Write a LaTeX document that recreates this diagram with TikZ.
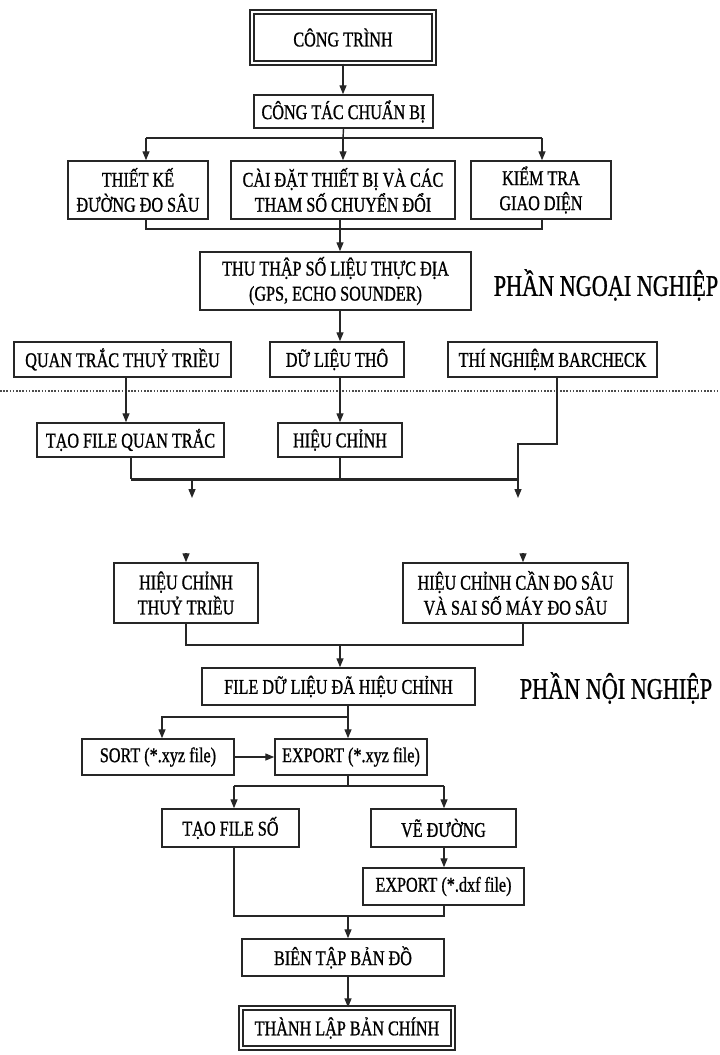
\documentclass[tikz,border=0pt]{standalone}
\usepackage{fontspec}
\setmainfont{Liberation Serif}
\newfontfamily\cf[FakeStretch=0.77,FakeBold=0.9]{Liberation Serif}
\newfontfamily\secfont[FakeStretch=0.74,FakeBold=0.9]{Liberation Serif}
\usetikzlibrary{arrows.meta,calc}
\begin{document}
\begin{tikzpicture}[x=1pt,y=-1pt,
  box/.style={draw=black!85, line width=1.5pt, fill=white, inner sep=0pt, align=center,
    font=\cf\fontsize{21}{25}\selectfont},
  dbox/.style={box, double=white, double distance=2.5pt, line width=1.3pt},
  ln/.style={line width=1.4pt, draw=black!85},
  arr/.style={ln, -{Triangle[length=9pt,width=7pt]}},
  thickbar/.style={line width=3pt, draw=black!85},
  dotline/.style={line width=1.6pt, draw=black!70, dash pattern=on 1.6pt off 1.6pt},
  sec/.style={font=\secfont\fontsize{30}{32}\selectfont, inner sep=0pt}]
\useasboundingbox (0,0) rectangle (720,1055);
% nodes
\node[dbox, minimum width=182, minimum height=51] (ct) at (343,37.5) {CÔNG TRÌNH};
\node[box, minimum width=179, minimum height=33] (ctcb) at (343.5,111.5) {CÔNG TÁC CHUẨN BỊ};
\node[box, minimum width=140, minimum height=58] (tk) at (138,190) {THIẾT KẾ\\ĐƯỜNG ĐO SÂU};
\node[box, minimum width=224, minimum height=58] (cd) at (343,190) {CÀI ĐẶT THIẾT BỊ VÀ CÁC\\THAM SỐ CHUYỂN ĐỔI};
\node[box, minimum width=140, minimum height=58] (kt) at (541,190) {KIỂM TRA\\GIAO DIỆN};
\node[box, minimum width=271, minimum height=58] (tt) at (335.5,281) {THU THẬP SỐ LIỆU THỰC ĐỊA\\(GPS, ECHO SOUNDER)};
\node[sec] (png) at (606,285) {PHẦN NGOẠI NGHIỆP};
\node[box, minimum width=217, minimum height=35] (qt) at (122.5,359.5) {QUAN TRẮC THUỶ TRIỀU};
\node[box, minimum width=134, minimum height=35] (dl) at (337,359.5) {DỮ LIỆU THÔ};
\node[box, minimum width=209, minimum height=35] (bc) at (552.5,359.5) {THÍ NGHIỆM BARCHECK};
\node[box, minimum width=187, minimum height=34] (tf) at (130.5,440) {TẠO FILE QUAN TRẮC};
\node[box, minimum width=124, minimum height=34] (hc) at (340,440) {HIỆU CHỈNH};
\node[box, minimum width=144, minimum height=60] (hct) at (186,593) {HIỆU CHỈNH\\THUỶ TRIỀU};
\node[box, minimum width=225, minimum height=60] (hcc) at (515.5,593) {HIỆU CHỈNH CẦN ĐO SÂU\\VÀ SAI SỐ MÁY ĐO SÂU};
\node[box, minimum width=273, minimum height=37] (fd) at (338.5,686.5) {FILE DỮ LIỆU ĐÃ HIỆU CHỈNH};
\node[sec] (pnn) at (616,688) {PHẦN NỘI NGHIỆP};
\node[box, minimum width=152, minimum height=36] (sort) at (158,757) {SORT (*.xyz file)};
\node[box, minimum width=152, minimum height=36] (ex) at (351,757) {EXPORT (*.xyz file)};
\node[box, minimum width=137, minimum height=38] (tfs) at (230.5,828) {TẠO FILE SỐ};
\node[box, minimum width=145, minimum height=38] (vd) at (443.5,828) {VẼ ĐƯỜNG};
\node[box, minimum width=161, minimum height=37] (exd) at (443.5,886.5) {EXPORT (*.dxf file)};
\node[box, minimum width=202, minimum height=37] (bt) at (343,957.5) {BIÊN TẬP BẢN ĐỒ};
\node[dbox, minimum width=212, minimum height=40] (tl) at (347,1028) {THÀNH LẬP BẢN CHÍNH};
% coordinates
\coordinate (b1L) at (146,138); \coordinate (b1R) at (542,138); \coordinate (b1C) at (343,138);
\coordinate (m1L) at (146,229); \coordinate (m1R) at (542,229); \coordinate (m1C) at (340,229);
\coordinate (q) at (126,0);
\coordinate (dt0) at (0,391); \coordinate (dt1) at (720,391);
\coordinate (k1) at (557,444); \coordinate (k2) at (518,444); \coordinate (k3) at (518,479);
\coordinate (b2L) at (131,479);
\coordinate (a1) at (192,479); \coordinate (a1e) at (192,498); \coordinate (a2e) at (518,498);
\coordinate (s1) at (186,553); \coordinate (s2) at (523,553);
\coordinate (m3L) at (186,645); \coordinate (m3R) at (523,645); \coordinate (m3C) at (340,645);
\coordinate (b4C) at (348,717); \coordinate (b4L) at (162,717);
\coordinate (b5C) at (348,786); \coordinate (b5L) at (234,786); \coordinate (b5R) at (444,786);
\coordinate (m6L) at (234,916); \coordinate (m6R) at (444,916); \coordinate (m6C) at (348,916);
% connectors
\draw[arr] (ct.south) -- (ct.south |- ctcb.north);
\draw[ln] (ctcb.south) -- (b1C);
\draw[ln] (b1L) -- (b1R);
\draw[arr] (b1L) -- (b1L |- tk.north);
\draw[arr] (b1C) -- (b1C |- cd.north);
\draw[arr] (b1R) -- (b1R |- kt.north);
\draw[ln] (m1L |- tk.south) -- (m1L) -- (m1R) -- (m1R |- kt.south);
\draw[ln] (m1C |- cd.south) -- (m1C);
\draw[arr] (m1C) -- (m1C |- tt.north);
\draw[arr] (m1C |- tt.south) -- (m1C |- dl.north);
\draw[dotline] (dt0) -- (dt1);
\draw[arr] (q |- qt.south) -- (q |- tf.north);
\draw[arr] (m1C |- dl.south) -- (m1C |- hc.north);
\draw[ln] (k1 |- bc.south) -- (k1) -- (k2) -- (k3);
\draw[thickbar] (b2L) -- (k3);
\draw[ln] (b2L |- tf.south) -- (b2L);
\draw[ln] (m1C |- hc.south) -- (m1C |- b2L);
\draw[arr] (a1) -- (a1e);
\draw[arr] (k3) -- (a2e);
\draw[arr] (s1) -- (s1 |- hct.north);
\draw[arr] (s2) -- (s2 |- hcc.north);
\draw[ln] (m3L |- hct.south) -- (m3L) -- (m3R) -- (m3R |- hcc.south);
\draw[arr] (m3C) -- (m3C |- fd.north);
\draw[ln] (b4C |- fd.south) -- (b4C);
\draw[arr] (b4C) -- (b4L) -- (b4L |- sort.north);
\draw[arr] (b4C) -- (b4C |- ex.north);
\draw[arr] (sort.east) -- (ex.west);
\draw[ln] (b5C |- ex.south) -- (b5C);
\draw[ln] (b5L) -- (b5R);
\draw[arr] (b5L) -- (b5L |- tfs.north);
\draw[arr] (b5R) -- (b5R |- vd.north);
\draw[arr] (b5R |- vd.south) -- (b5R |- exd.north);
\draw[ln] (m6L |- tfs.south) -- (m6L) -- (m6R) -- (m6R |- exd.south);
\draw[arr] (m6C) -- (m6C |- bt.north);
\draw[arr] (m6C |- bt.south) -- (m6C |- tl.north);
\end{tikzpicture}
\end{document}
